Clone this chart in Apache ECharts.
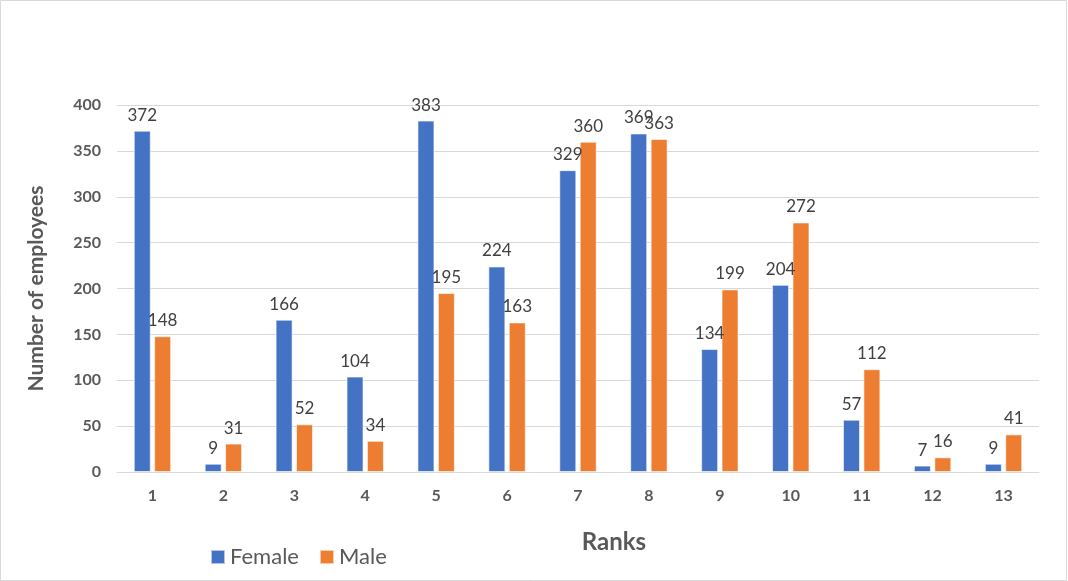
<!DOCTYPE html>
<html>
<head>
<meta charset="utf-8">
<script src="https://cdn.jsdelivr.net/npm/echarts@6/dist/echarts.min.js"></script>
<style>
  html, body { margin: 0; padding: 0; background: #fff; }
  #chart { width: 1068px; height: 581px; }
</style>
</head>
<body>
<div id="chart"></div>
<script>
// Employees per rank, split by gender
const ranks = ['1', '2', '3', '4', '5', '6', '7', '8', '9', '10', '11', '12', '13'];
const female = [372, 9, 166, 104, 383, 224, 329, 369, 134, 204, 57, 7, 9];
const male = [148, 31, 52, 34, 195, 163, 360, 363, 199, 272, 112, 16, 41];
const yTicks = [0, 50, 100, 150, 200, 250, 300, 350, 400];

const FONT = 'Lato, "Open Sans", sans-serif';
const AXIS_GREY = '#595959';
const GRID_GREY = '#d9d9d9';

const chart = echarts.init(document.getElementById('chart'), null, { renderer: 'canvas' });

function barSeries(name, values, color) {
  return {
    name: name,
    type: 'bar',
    data: values,
    barWidth: 17,
    barGap: '20%',
    itemStyle: { color: color, borderColor: 'rgba(255,255,255,0.6)', borderWidth: 1 },
    label: {
      show: true,
      position: 'top',
      distance: 7,
      color: '#404040',
      fontFamily: FONT,
      fontSize: 17
    },
    emphasis: { disabled: true }
  };
}

chart.setOption({
  animation: false,
  backgroundColor: '#ffffff',
  textStyle: { fontFamily: FONT },
  grid: { left: 117, right: 29, top: 105, bottom: 109 },
  legend: {
    left: 205,
    top: 541,
    itemWidth: 14,
    itemHeight: 14,
    itemGap: 20,
    icon: 'rect',
    textStyle: { color: AXIS_GREY, fontSize: 22, fontFamily: FONT },
    data: ['Female', 'Male']
  },
  xAxis: {
    type: 'category',
    data: ranks,
    name: 'Ranks',
    nameLocation: 'middle',
    nameGap: 58,
    nameTextStyle: { color: AXIS_GREY, fontSize: 24, fontWeight: 'bold', fontFamily: FONT, padding: [0, 0, 0, 72] },
    axisLine: { lineStyle: { color: GRID_GREY, width: 1 } },
    axisTick: { show: false },
    axisLabel: { color: AXIS_GREY, fontSize: 16, fontWeight: 'bold', fontFamily: FONT, margin: 16 }
  },
  yAxis: {
    type: 'value',
    min: yTicks[0],
    max: yTicks[yTicks.length - 1],
    interval: yTicks[1] - yTicks[0],
    name: 'Number of employees',
    nameLocation: 'middle',
    nameGap: 70,
    nameTextStyle: { color: AXIS_GREY, fontSize: 21, fontWeight: 'bold', fontFamily: FONT },
    axisLine: { show: false },
    axisTick: { show: false },
    axisLabel: { color: AXIS_GREY, fontSize: 16, fontWeight: 'bold', fontFamily: FONT, margin: 16 },
    splitLine: { lineStyle: { color: GRID_GREY, width: 1 } }
  },
  graphic: [{
    type: 'rect',
    silent: true,
    z: -1,
    shape: { x: 0.5, y: 0.5, width: 1066, height: 580 },
    style: { fill: null, stroke: GRID_GREY, lineWidth: 1 }
  }],
  series: [
    barSeries('Female', female, '#4472C4'),
    barSeries('Male', male, '#ED7D31')
  ]
});
</script>
</body>
</html>
